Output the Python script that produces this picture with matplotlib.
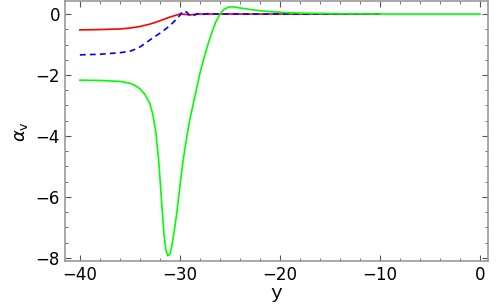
import matplotlib
matplotlib.use("Agg")
import matplotlib.pyplot as plt
from matplotlib.ticker import MultipleLocator

# red curve (ends at y = -10)
red_x = [-40, -38, -36, -35, -34, -33, -32.5, -32, -31.5, -31, -30.5, -30, -29.5, -29, -28.5, -28, -27, -25, -20, -15, -10]
red_y = [-0.52, -0.51, -0.49, -0.46, -0.41, -0.33, -0.28, -0.22, -0.16, -0.1, -0.05, 0.0, -0.01, -0.03, -0.01, 0.0, 0.0, 0.0, 0.0, 0.0, 0.0]

# blue dashed curve (ends at y = -10)
blue_x = [-40, -38, -36, -35, -34.5, -34, -33.5, -33, -32.5, -32, -31.5, -31, -30.5, -30, -29.7, -29.3, -29, -28.6, -28.2, -27.8, -27.3, -26.5, -25, -20, -15, -10]
blue_y = [-1.34, -1.32, -1.27, -1.22, -1.16, -1.08, -0.97, -0.85, -0.74, -0.63, -0.51, -0.38, -0.22, -0.04, 0.1, 0.06, -0.06, -0.04, 0.01, -0.02, 0.01, 0.0, 0.0, 0.0, 0.0, 0.0]

# green curve (runs to y = 0)
green_x = [-40, -38, -36, -35, -34.5, -34, -33.5, -33, -32.7, -32.4, -32.1, -31.8, -31.6, -31.4, -31.2, -31.0, -30.8, -30.6, -30.3, -30, -29.7, -29.3, -29, -28.6, -28.3, -28, -27.6, -27.2, -26.8, -26.4, -26, -25.6, -25.2, -24.8, -24.4, -24, -23, -22, -21, -20, -19, -18, -16, -14, -10, -5, 0]
green_y = [-2.17, -2.18, -2.21, -2.27, -2.34, -2.45, -2.64, -2.94, -3.3, -3.9, -4.9, -6.3, -7.2, -7.75, -7.93, -7.88, -7.6, -7.2, -6.5, -5.65, -4.85, -4.0, -3.45, -2.85, -2.4, -1.95, -1.45, -1.0, -0.6, -0.25, 0.0, 0.15, 0.22, 0.24, 0.22, 0.2, 0.15, 0.11, 0.08, 0.06, 0.04, 0.03, 0.02, 0.01, 0.0, 0.0, 0.0]

fig = plt.figure(figsize=(4.99, 3.08), dpi=100)
ax = fig.add_axes([0.130, 0.153, 0.848, 0.843])

ax.plot(red_x, red_y, color=(1, 0, 0), lw=1.2)
ax.plot(blue_x, blue_y, color=(0, 0, 1), lw=1.2, ls=(0, (3.5, 2.5)))
ax.plot(green_x, green_y, color=(0, 1, 0), lw=1.2)

ax.set_xlim(-41.5, 0.8)
ax.set_ylim(-8.1, 0.42)

ax.xaxis.set_major_locator(MultipleLocator(10))
ax.xaxis.set_minor_locator(MultipleLocator(2))
ax.yaxis.set_major_locator(MultipleLocator(2))
ax.yaxis.set_minor_locator(MultipleLocator(0.5))

ax.tick_params(which="both", direction="in", top=True, right=True, color="#555555", labelsize=12)
ax.tick_params(which="major", length=4, width=0.8)
ax.tick_params(which="minor", length=2, width=0.6)
for s in ax.spines.values():
    s.set_color("#999999")
    s.set_linewidth(1.2)

ax.set_xlabel("y", family="Liberation Mono", fontsize=14, labelpad=1)
ax.set_ylabel(r"$\alpha_{\rm v}$", fontsize=13, labelpad=4)

fig.savefig("out.png", dpi=100)
